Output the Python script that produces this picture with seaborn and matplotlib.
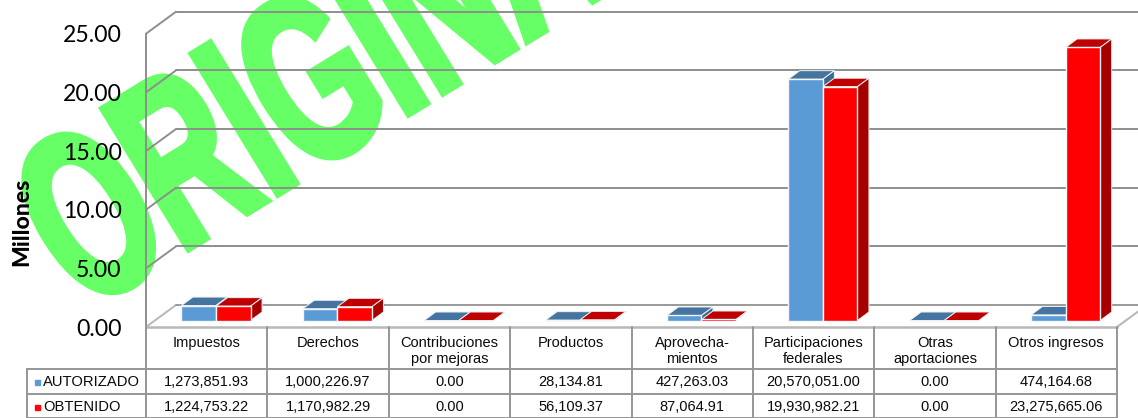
import matplotlib
matplotlib.use("Agg")
import matplotlib.pyplot as plt
import matplotlib.patheffects as pe
from matplotlib.lines import Line2D
from matplotlib.patches import Polygon
from matplotlib.transforms import Affine2D, IdentityTransform
import numpy as np
import pandas as pd
import seaborn as sns

categories = ["Impuestos", "Derechos", "Contribuciones\npor mejoras", "Productos",
              "Aprovecha-\nmientos", "Participaciones\nfederales", "Otras\naportaciones",
              "Otros ingresos"]
autorizado = [1273851.93, 1000226.97, 0.00, 28134.81, 427263.03, 20570051.00, 0.00, 474164.68]
obtenido = [1224753.22, 1170982.29, 0.00, 56109.37, 87064.91, 19930982.21, 0.00, 23275665.06]
series_names = ["AUTORIZADO", "OBTENIDO"]
y_ticks = [0, 5, 10, 15, 20, 25]

W, H = 1138, 418
BLUE, BLUE_TOP, BLUE_SIDE = "#5B9BD5", "#44749F", "#3A6A90"
RED, RED_TOP, RED_SIDE = "#FF0000", "#BF0000", "#A60000"
GRID = "#8E8E8E"
FLOOR = "#B8B8B8"
TABLE = "#969696"
TXT = "#0A0A0A"

sns.set_theme(style="white")
plt.rcParams["font.family"] = ["Liberation Sans", "DejaVu Sans"]

fig = plt.figure(figsize=(W / 100, H / 100), dpi=100, facecolor="white")
L, R, T, B = 146.0, 1117.0, 33.7, 327.0
ax = fig.add_axes([L / W, 1 - B / H, (R - L) / W, (B - T) / H])
ax.patch.set_visible(False)

df = pd.DataFrame({
    "categoria": categories * 2,
    "serie": [series_names[0]] * 8 + [series_names[1]] * 8,
    "valor": [v / 1e6 for v in autorizado + obtenido],
})
sns.barplot(data=df, x="categoria", y="valor", hue="serie", hue_order=series_names,
            palette=[BLUE, RED], saturation=1, width=0.57, dodge=True, errorbar=None,
            edgecolor="#F2F6FA", linewidth=1.0, legend=False, ax=ax, zorder=5)

ax.set_xlim(-0.5, 7.5)
ax.set_ylim(0, 25)
ppx = 8 / (R - L)            # data units per pixel, x
ppy = 25 / (B - T)           # data units per pixel, y

# Wall and gridlines
wx, wy = 30 * ppx, 22 * ppy
for t in y_ticks:
    diag = FLOOR if t == 0 else GRID
    back = "#9A9A9A" if t == 0 else GRID
    ax.add_line(Line2D([-0.5, -0.5 + wx], [t, t + wy], color=diag, lw=1.4, clip_on=False, zorder=1))
    ax.add_line(Line2D([-0.5 + wx, 7.5 + wx], [t + wy, t + wy], color=back, lw=1.4, clip_on=False, zorder=1))
ax.add_line(Line2D([7.5, 7.5 + wx], [0, wy], color=FLOOR, lw=1.5, clip_on=False, zorder=1))

# Bars moved onto the floor, with extruded sides
ox, oy = 9.3 * ppx, 6.5 * ppy
dx, dy = 11.5 * ppx, 8.5 * ppy
bars = list(ax.patches)
n = len(categories)
for i, b in enumerate(bars):
    top_c, side_c = (BLUE_TOP, BLUE_SIDE) if i < n else (RED_TOP, RED_SIDE)
    b.set_x(b.get_x() + ox)
    b.set_y(oy)
    b.set_clip_on(False)
    z = 5 + 2 * (i >= n)
    b.set_zorder(z + 0.5)
    x0, x1 = b.get_x(), b.get_x() + b.get_width()
    y0, y1 = oy, oy + b.get_height()
    ax.add_patch(Polygon([(x0, y1), (x1, y1), (x1 + dx, y1 + dy), (x0 + dx, y1 + dy)],
                         facecolor=top_c, edgecolor="#EEF3F8", lw=0.7, clip_on=False, zorder=z))
    if y1 - y0 > 0:
        ax.add_patch(Polygon([(x1, y0), (x1 + dx, y0 + dy), (x1 + dx, y1 + dy), (x1, y1)],
                             facecolor=side_c, edgecolor="#EEF3F8", lw=0.7, clip_on=False, zorder=z))

# Axes furniture
for s in ["top", "right"]:
    ax.spines[s].set_visible(False)
ax.spines["left"].set_color(GRID)
ax.spines["left"].set_linewidth(1.4)
ax.spines["bottom"].set_color(FLOOR)
ax.spines["bottom"].set_linewidth(1.8)
ax.set_yticks(y_ticks)
ax.set_yticklabels([f"{t:.2f}" for t in y_ticks], fontfamily="Lato", fontsize=16.6, color="black")
ax.tick_params(axis="y", length=0, pad=17.5)
ax.tick_params(axis="x", length=0, pad=6.5, labelsize=10.5, labelcolor=TXT)
ax.set_xlabel("")
ax.set_ylabel("Millones", fontfamily="Lato", fontweight="black", fontsize=16.6, color="black")
ax.yaxis.set_label_coords((32 - L) / (R - L), (B - 222) / (B - T))

# Data table
def hline(y, x0, x1, **kw):
    fig.add_artist(Line2D([x0, x1], [H - y, H - y], transform=IdentityTransform(), **kw))
def vline(x, y0, y1, **kw):
    fig.add_artist(Line2D([x, x], [H - y0, H - y1], transform=IdentityTransform(), **kw))

style = dict(color=TABLE, lw=1.4)
for k in range(9):
    vline(L + k * (R - L) / 8, B, H, **style)
vline(27, 368.5, H, **style)
hline(368.5, 27, R, **style)
hline(394, 27, R, **style)
hline(417.5, 27, R, **style)

row_y = [382, 407]
for row, vals, col, name in zip(row_y, [autorizado, obtenido], [BLUE, RED], series_names):
    fig.text(43 / W, 1 - row / H, name, ha="left", va="center", fontsize=10.6, color=TXT)
    fig.add_artist(Line2D([36.5], [H - row], transform=IdentityTransform(), marker="s", ms=3.6,
                          color=col, ls="none"))
    for i, v in enumerate(vals):
        fig.text((L + (i + 0.5) * (R - L) / 8) / W, 1 - row / H, f"{v:,.2f}", ha="center",
                 va="center", fontsize=10.5, color=TXT)

# Watermark: real text, stretched and turned by a path effect
class Stretch(pe.AbstractPathEffect):
    def __init__(self, ax_, ay_, sx, angle):
        super().__init__()
        self.tr = (Affine2D().translate(-ax_, -ay_).scale(sx, 1).rotate_deg(angle).translate(ax_, ay_))
    def draw_path(self, renderer, gc, tpath, affine, rgbFace=None):
        gc2 = renderer.new_gc()
        gc2.copy_properties(gc)
        gc2.set_linewidth(5.0)
        gc2.set_joinstyle("miter")
        gc2.set_foreground(rgbFace)
        renderer.draw_path(gc2, tpath, affine + self.tr, rgbFace)
        gc2.restore()

ax0, ay0 = 84.0, H - 313.0
fig.text(ax0 / W, ay0 / H, "ORIGINAL", ha="left", va="baseline", fontsize=172.0,
         fontweight="bold", color="#66FF66", zorder=-2,
         path_effects=[Stretch(ax0, ay0, 0.608, 31.5)])

fig.savefig("out.png", dpi=100)
